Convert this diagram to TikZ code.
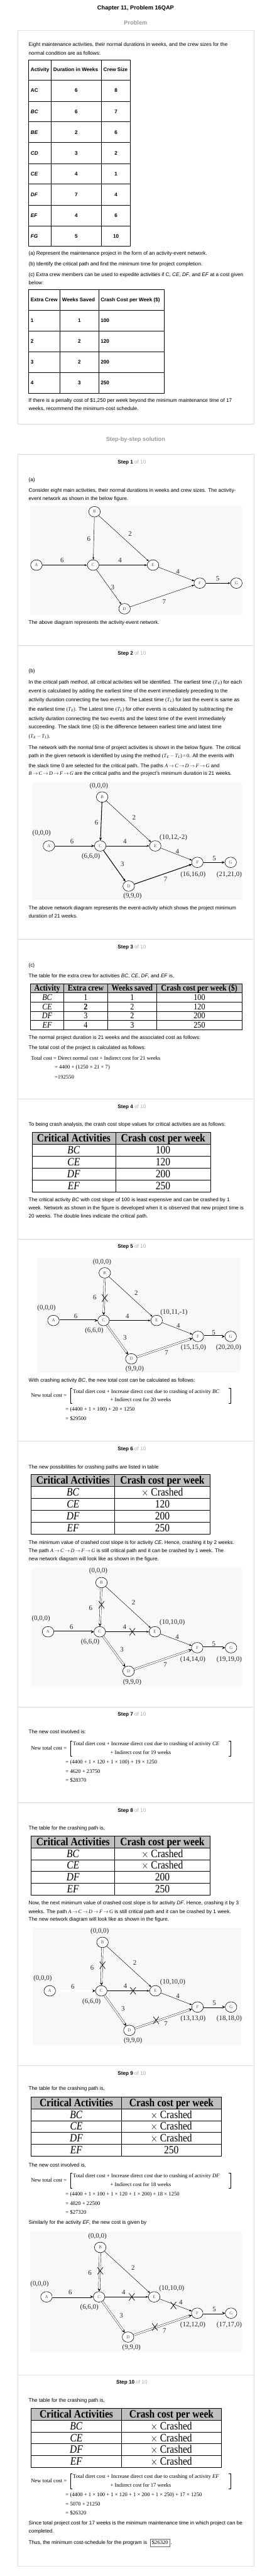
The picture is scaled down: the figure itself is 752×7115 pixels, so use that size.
\documentclass[tikz,border=0pt]{standalone}
\usepackage{fontspec}
\usepackage{graphicx}
\setmainfont{Liberation Sans}
\newfontfamily\rmf{Liberation Serif}
\usetikzlibrary{arrows.meta,shapes.geometric}
\definecolor{boxgray}{RGB}{221,221,221}
\definecolor{hdrgray}{RGB}{192,192,192}
\definecolor{figbg}{RGB}{248,248,248}
\definecolor{headgray}{RGB}{153,153,153}
\definecolor{stepgray}{RGB}{170,170,170}
\newcommand\bodyf{\fontsize{14.2}{17}\selectfont}
\newcommand\headf{\fontsize{16}{19}\selectfont\bfseries}
\newcommand\labf{\rmf\fontsize{19}{22}\selectfont}
\newcommand\evf{\rmf\fontsize{12}{14}\selectfont}
\newcommand\formf{\rmf\fontsize{15}{18}\selectfont}
\newcommand\tabbf{\rmf\fontsize{27}{30}\selectfont}
\newcommand\tabsf{\rmf\fontsize{21}{24}\selectfont}
\newcommand\st[1]{\scalebox{1}[1.15]{#1}}
\newcount\nc
\newcommand\T[3]{\global\advance\nc by 1\relax\node[txt] (t\the\nc) at ([yshift=-5pt]#1,#2) {#3};}
\newcommand\F[3]{\global\advance\nc by 1\relax\node[ftxt] (t\the\nc) at ([yshift=-5pt]#1,#2) {#3};}
\newcommand\Lab[3]{\global\advance\nc by 1\relax\node[lab] (t\the\nc) at (#1,#2) {#3};}
\newcommand\TB[3]{\global\advance\nc by 1\relax\node[tcell,font=\tabbf] (t\the\nc) at ([yshift=-10pt]#1,#2) {\st{#3}};}
\newcommand\TS[3]{\global\advance\nc by 1\relax\node[tcell,font=\tabsf] (t\the\nc) at ([yshift=-8pt]#1,#2) {\st{#3}};}
\newcommand\Step[3]{\node[anchor=base,inner sep=0pt,font=\bodyf] (#1) at ([yshift=-5pt]760,#2) {\textbf{Step #3} \textcolor{stepgray}{of 10}};}
\newcommand\Xm[2]{\draw[xm] (#1-16,#2-26) -- (#1+16,#2+26) (#1-16,#2+26) -- (#1+16,#2-26);}
\newcommand\pth{{\rmf\itshape A\,$\to$\,C\,$\to$\,D\,$\to$\,F\,$\to$\,G}}
\newcommand\pthB{{\rmf\itshape B\,$\to$\,C\,$\to$\,D\,$\to$\,F\,$\to$\,G}}
\newcommand\TE{{\rmf(\textit{T}\textsubscript{\textit{E}})}}
\newcommand\TL{{\rmf(\textit{T}\textsubscript{\textit{L}})}}
\newcommand\TETL{{\rmf(\textit{T}\textsubscript{\textit{E}}\,$-$\,\textit{T}\textsubscript{\textit{L}})}}
\newcommand\XC{$\times$ Crashed}
% critical-activity table frame: x0 xm x1 y0 y1 y2 y3 y4 y5
\newcommand\CT[9]{%
 \fill[hdrgray] (#1,#4) rectangle (#3,#5);
 \draw[ttab] (#1,#4) rectangle (#3,#9);
 \foreach \yy in {#5,#6,#7,#8} \draw[ttab] (#1,\yy) -- (#3,\yy);
 \draw[ttab] (#2,#4) -- (#2,#9);
 \TB{0.5*#1+0.5*#2}{0.5*#4+0.5*#5}{\textbf{Critical Activities}}
 \TB{0.5*#2+0.5*#3}{0.5*#4+0.5*#5}{\textbf{Crash cost per week}}
}
% new total cost block: ymid ytop ybot y1 y2 activity weeks
\newcommand\NTC[7]{%
 \F{178}{#1}{New total cost =}
 \draw[brk] (418,#2) -- (405,#2) -- (405,#3) -- (418,#3);
 \draw[brk] (1317,#2) -- (1330,#2) -- (1330,#3) -- (1317,#3);
 \F{420}{#4}{Total diret cost + Increase direct cost due to crashing of activity \textit{#6}}
 \global\advance\nc by 1\relax\node[ftxt,anchor=base] (t\the\nc) at ([yshift=-5pt]811,#5) {+ Indirect cost for #7 weeks};
}
\begin{document}
\begin{tikzpicture}[x=1pt,y=1pt,
 txt/.style={anchor=base west,inner sep=0pt,font=\bodyf},
 ftxt/.style={anchor=base west,inner sep=0pt,font=\formf},
 lab/.style={inner sep=0pt,font=\labf,text=black!85},
 ev/.style={draw,ellipse,minimum width=32pt,minimum height=29pt,inner sep=0pt,font=\evf,text=black!70,line width=1pt,fill=white},
 ed/.style={line width=0.8pt,-{Stealth[length=7pt,width=5pt]}},
 thk/.style={line width=1.8pt,-{Stealth[length=8pt,width=7pt]}},
 dbl/.style={line width=0.7pt,double=white,double distance=3.8pt,-{Stealth[length=8pt,width=8pt]}},
 xm/.style={line width=1.2pt},
 brk/.style={line width=0.6pt},
 stab/.style={line width=1.1pt},
 ttab/.style={line width=1pt},
 boxline/.style={draw=boxgray,line width=1pt},
 cr/.style={shift={(0pt,-#1pt)},x=0.4796pt,y=-0.3827pt},
 crz/.style={shift={(0pt,-#1pt)},x=0.4796pt,y=-0.3986pt},
 sth/.style={anchor=base west,inner sep=0pt,font=\bodyf\bfseries},
 stc/.style={anchor=base,inner sep=0pt,font=\bodyf\bfseries},
 tcell/.style={anchor=base,inner sep=0pt},
]
\path[use as bounding box] (0,0) rectangle (752,-7115);
\fill[white] (0,0) rectangle (752,-7115);
% boxes and separators
\draw[boxline] (48.4,-84.6) rectangle (702.6,-1170.9);
\draw[boxline] (48.4,-1254.2) rectangle (702.6,-7087.9);
\foreach \yy in {1782.6,2594.6,3034.6,3422.3,3980.5,4714.4,4978.3,5705.3,6559.4}
  \draw[boxline] (48.4,-\yy) -- (702.6,-\yy);

% ================= crop 1 =================
\begin{scope}[cr=0]
\node[anchor=base,inner sep=0pt,font=\headf] (title) at ([yshift=-5.5pt]782,55) {Chapter 11, Problem 16QAP};
\node[anchor=base,inner sep=0pt,font=\headf,text=headgray] (probhead) at ([yshift=-5.5pt]782,165) {Problem};
\T{165}{322}{Eight maintenance activities, their normal durations in weeks, and the crew sizes for the}
\T{165}{382}{normal condition are as follows:}
\draw[stab] (165,431) rectangle (752,1777.7);
\foreach \yy in {578,730,879,1028,1180,1329,1480,1628.7} \draw[stab] (165,\yy) -- (752,\yy);
\foreach \xx in {295,585} \draw[stab] (\xx,431) -- (\xx,1777.7);
\node[sth] (h1a) at ([yshift=-5pt]177,504) {Activity};
\node[sth] (h1b) at ([yshift=-5pt]307,504) {Duration in Weeks};
\node[sth] (h1c) at ([yshift=-5pt]596,504) {Crew Size};
\foreach \nm/\yy/\dd/\cc [count=\i] in {AC/654/6/8,\textit{BC}/805/6/7,\textit{BE}/955/2/6,\textit{CD}/1105/3/2,\textit{CE}/1255/4/1,\textit{DF}/1404/7/4,\textit{EF}/1555/4/6,\textit{FG}/1703.7/5/10}{
  \node[sth] (r1a\i) at ([yshift=-5pt]177,\yy) {\nm};
  \node[stc] (r1b\i) at ([yshift=-5pt]440,\yy) {\dd};
  \node[stc] (r1c\i) at ([yshift=-5pt]669,\yy) {\cc};
}
\end{scope}

% ================= crop 2 =================
\begin{scope}[cr=590]
\T{165}{288}{(a) Represent the maintenance project in the form of an activity-event network.}
\T{165}{363}{(b) Identify the critical path and find the minimum time for project completion.}
\T{165}{440}{(c) Extra crew members can be used to expedite activities if C, \textit{CE}, \textit{DF}, and \textit{EF} at a cost given}
\T{165}{498}{below:}
\draw[stab] (165,547) rectangle (946,1298);
\foreach \yy in {696,848,997,1148} \draw[stab] (165,\yy) -- (946,\yy);
\foreach \xx in {347,568} \draw[stab] (\xx,547) -- (\xx,1298);
\node[sth] (h2a) at ([yshift=-5pt]177,622) {Extra Crew};
\node[sth] (h2b) at ([yshift=-5pt]358,622) {Weeks Saved};
\node[sth] (h2c) at ([yshift=-5pt]580,622) {Crash Cost per Week (\$)};
\foreach \aa/\yy/\bb/\cc [count=\i] in {1/773/1/100,2/922/2/120,3/1071/2/200,4/1222/3/250}{
  \node[sth] (r2a\i) at ([yshift=-5pt]177,\yy) {\aa};
  \node[stc] (r2b\i) at ([yshift=-5pt]458,\yy) {\bb};
  \node[sth] (r2c\i) at ([yshift=-5pt]580,\yy) {\cc};
}
\T{165}{1346}{If there is a penalty cost of \$1,250 per week beyond the minimum maintenance time of 17}
\T{165}{1406}{weeks, recommend the minimum-cost schedule.}
\end{scope}

% ================= crop 3 =================
\begin{scope}[cr=1180]
\node[anchor=base,inner sep=0pt,font=\headf,text=headgray] (solhead) at ([yshift=-5.5pt]782,85) {Step-by-step solution};
\Step{s1}{251}{1}
\T{165}{380}{(a)}
\T{165}{455}{Consider eight main activities, their normal durations in weeks and crew sizes. The activity-}
\T{165}{515}{event network as shown in the below figure.}
\fill[figbg] (175,565) rectangle (1395,1355);
\node[ev] (a1) at (210,995) {A};
\node[ev] (b1) at (545,610) {B};
\node[ev] (c1) at (537,995) {C};
\node[ev] (e1) at (882,995) {E};
\node[ev] (f1) at (1152,1125) {F};
\node[ev] (g1) at (1363,1125) {G};
\node[ev] (d1) at (718,1310) {D};
\draw[ed] (a1) -- (c1);
\draw[ed] (b1) -- (c1);
\draw[ed] (b1) -- (e1);
\draw[ed] (c1) -- (e1);
\draw[ed] (c1) -- (d1);
\draw[ed] (e1) -- (f1);
\draw[ed] (d1) -- (f1);
\draw[ed] (f1) -- (g1);
\Lab{358}{962}{6}\Lab{512}{808}{6}\Lab{750}{770}{2}\Lab{692}{962}{4}
\Lab{1025}{1040}{4}\Lab{650}{1155}{3}\Lab{947}{1258}{7}\Lab{1255}{1093}{5}
\T{165}{1407}{The above diagram represents the activity-event network.}
\end{scope}

% ================= crop 4 =================
\begin{scope}[cr=1770]
\Step{s2}{87}{2}
\T{165}{218}{(b)}
\T{165}{296}{In the critical path method, all critical activities will be identified. The earliest time \TE{} for each}
\T{165}{362}{event is calculated by adding the earliest time of the event immediately preceding to the}
\T{165}{424}{activity duration connecting the two events. The Latest time \TL{} for last the event is same as}
\T{165}{494}{the earliest time \TE. The Latest time \TL{} for other events is calculated by subtracting the}
\T{165}{562}{activity duration connecting the two events and the latest time of the event immediately}
\T{165}{622}{succeeding. The slack time (\textit{S}) is the difference between earliest time and latest time}
\T{165}{688}{\TETL.}
\T{165}{768}{The network with the normal time of project activities is shown in the below figure. The critical}
\T{165}{830}{path in the given network is identified by using the method \TETL{}{\rmf\,=\,0}. All the events with}
\T{165}{900}{the slack time 0 are selected for the critical path. The paths \pth{} and}
\T{165}{958}{\pthB{} are the critical paths and the project's minimum duration is 21 weeks.}
\fill[figbg] (185,1020) rectangle (1395,1871.7);
\node[ev] (a2) at (282,1480) {A};
\node[ev] (b2) at (589,1127) {B};
\node[ev] (c2) at (578,1480) {C};
\node[ev] (e2) at (895,1480) {E};
\node[ev] (f2) at (1138,1598.7) {F};
\node[ev] (g2) at (1330,1598.7) {G};
\node[ev] (d2) at (742,1769.7) {D};
\draw[thk] (a2) -- (c2);
\draw[thk] (b2) -- (c2);
\draw[ed] (b2) -- (e2);
\draw[ed] (c2) -- (e2);
\draw[thk] (c2) -- (d2);
\draw[ed] (e2) -- (f2);
\draw[thk] (d2) -- (f2);
\draw[thk] (f2) -- (g2);
\Lab{570}{1047}{(0,0,0)}\Lab{240}{1388}{(0,0,0)}\Lab{1000}{1420}{(10,12,-2)}
\Lab{524}{1556.7}{(6,6,0)}\Lab{1113}{1686.7}{(16,16,0)}\Lab{1322}{1686.7}{(21,21,0)}\Lab{764}{1841.7}{(9,9,0)}
\Lab{415}{1447}{6}\Lab{556}{1310}{6}\Lab{773}{1275}{2}\Lab{720}{1447}{4}
\Lab{1023}{1520}{4}\Lab{706}{1611.7}{3}\Lab{955}{1721.7}{7}\Lab{1235}{1569.7}{5}
\end{scope}

% ================= crop 5 =================
\begin{scope}[cr=2360]
\T{165}{388}{The above network diagram represents the event-activity which shows the project minimum}
\T{165}{447}{duration of 21 weeks.}
\Step{s3}{669}{3}
\T{165}{800}{(c)}
\T{165}{876}{The table for the extra crew for activities \textit{BC}, \textit{CE}, \textit{DF}, and \textit{EF} is,}
\fill[hdrgray] (176,932) rectangle (1394,998);
\draw[ttab] (176,932) rectangle (1394,1263);
\foreach \yy in {998,1065,1131,1197} \draw[ttab] (176,\yy) -- (1394,\yy);
\foreach \xx in {368,620,904} \draw[ttab] (\xx,932) -- (\xx,1263);
\TS{272}{965}{\textbf{Activity}}\TS{494}{965}{\textbf{Extra crew}}\TS{762}{965}{\textbf{Weeks saved}}\TS{1149}{965}{\textbf{Crash cost per week (\$)}}
\TS{272}{1032}{\textit{BC}}\TS{494}{1032}{1}\TS{762}{1032}{1}\TS{1150}{1032}{100}
\TS{272}{1098}{\textit{CE}}\TS{494}{1098}{\textbf{2}}\TS{762}{1098}{2}\TS{1150}{1098}{120}
\TS{272}{1164}{\textit{DF}}\TS{494}{1164}{3}\TS{762}{1164}{2}\TS{1150}{1164}{200}
\TS{272}{1230}{\textit{EF}}\TS{494}{1230}{4}\TS{762}{1230}{3}\TS{1150}{1230}{250}
\T{165}{1320}{The normal project duration is 21 weeks and the associated cost as follows:}
\T{165}{1395}{The total cost of the project is calculated as follows:}
\F{178}{1472}{Total cost = Direct normal cost + Indirect cost for 21 weeks}
\F{315}{1535}{= 4400 + (1250 × 21 × 7)}
\end{scope}

% ================= crop 6 =================
\begin{scope}[cr=2950]
\F{315}{63}{=192550}
\Step{s4}{277}{4}
\T{165}{405}{To being crash analysis, the crash cost slope values for critical activities are as follows:}
\CT{185}{666}{1215}{464}{550}{636}{720}{806}{892}
\TB{425}{593}{\textit{BC}}\TB{940}{593}{100}
\TB{425}{678}{\textit{CE}}\TB{940}{678}{120}
\TB{425}{763}{\textit{DF}}\TB{940}{763}{200}
\TB{425}{849}{\textit{EF}}\TB{940}{849}{250}
\T{165}{948}{The critical activity \textit{BC} with cost slope of 100 is least expensive and can be crashed by 1}
\T{165}{1009}{week. Network as shown in the figure is developed when it is observed that new project time is}
\T{165}{1067}{20 weeks. The double lines indicate the critical path.}
\Step{s5}{1288}{5}
\fill[figbg] (215,1370) rectangle (1385,2201.7);
\node[ev] (a3) at (308,1821.7) {A};
\node[ev] (b3) at (604,1478) {B};
\node[ev] (c3) at (597,1821.7) {C};
\node[ev] (e3) at (903,1821.7) {E};
\node[ev] (f3) at (1141,1936.7) {F};
\node[ev] (g3) at (1330,1936.7) {G};
\node[ev] (d3) at (757,2098.7) {D};
\draw[dbl] (a3) -- (c3);
\draw[dbl] (b3) -- (c3);
\draw[ed] (b3) -- (e3);
\draw[ed] (c3) -- (e3);
\draw[dbl] (c3) -- (d3);
\draw[ed] (e3) -- (f3);
\draw[dbl] (d3) -- (f3);
\draw[dbl] (f3) -- (g3);
\Xm{604}{1659.7}
\Lab{588}{1402}{(0,0,0)}\Lab{268}{1731.7}{(0,0,0)}\Lab{1003}{1761.7}{(10,11,-1)}
\Lab{543}{1894.7}{(6,6,0)}\Lab{1115}{2018.7}{(15,15,0)}\Lab{1318}{2018.7}{(20,20,0)}\Lab{777}{2171.7}{(9,9,0)}
\Lab{546}{1656.7}{6}\Lab{785}{1621.7}{2}\Lab{437}{1789.7}{6}\Lab{735}{1789.7}{4}
\Lab{1028}{1859.7}{4}\Lab{720}{1946.7}{3}\Lab{960}{2053.7}{7}\Lab{1232}{1907.7}{5}
\end{scope}

% ================= crop 7 =================
\begin{scope}[cr=3540]
\T{165}{712}{With crashing activity \textit{BC}, the new total cost can be calculated as follows:}
\NTC{822}{770}{878}{792}{853}{BC}{20}
\F{378}{922}{= (4400 + 1 × 100) + 20 × 1250}
\F{378}{990}{= \$29500}
\Step{s6}{1208}{6}
\T{165}{1336}{The new possibilities for crashing paths are listed in table}
\CT{180}{662}{1210}{1390}{1477}{1563.7}{1647.7}{1733.7}{1819.7}
\TB{421}{1520.3}{\textit{BC}}\TB{936}{1520.3}{\XC}
\TB{421}{1605.7}{\textit{CE}}\TB{936}{1605.7}{120}
\TB{421}{1690.7}{\textit{DF}}\TB{936}{1690.7}{200}
\TB{421}{1776.7}{\textit{EF}}\TB{936}{1776.7}{250}
\end{scope}

% ================= crop 8 =================
\begin{scope}[cr=4130]
\T{165}{340}{The minimum value of crashed cost slope is for activity \textit{CE}. Hence, crashing it by 2 weeks.}
\T{165}{400}{The path \pth{} is still critical path and it can be crashed by 1 week. The}
\T{165}{457}{new network diagram will look like as shown in the figure.}
\fill[figbg] (180,525) rectangle (1395,1375);
\node[ev] (a4) at (277,985) {A};
\node[ev] (b4) at (585,630) {B};
\node[ev] (c4) at (575,985) {C};
\node[ev] (e4) at (893,985) {E};
\node[ev] (f4) at (1137,1100) {F};
\node[ev] (g4) at (1332,1100) {G};
\node[ev] (d4) at (741,1270) {D};
\draw[dbl] (a4) -- (c4);
\draw[dbl] (b4) -- (c4);
\draw[ed] (b4) -- (e4);
\draw[ed] (c4) -- (e4);
\draw[dbl] (c4) -- (d4);
\draw[ed] (e4) -- (f4);
\draw[dbl] (d4) -- (f4);
\draw[dbl] (f4) -- (g4);
\Xm{585}{790}\Xm{763}{985}
\Lab{567}{548}{(0,0,0)}\Lab{236}{890}{(0,0,0)}\Lab{993}{920}{(10,10,0)}
\Lab{520}{1060}{(6,6,0)}\Lab{1112}{1188}{(14,14,0)}\Lab{1322}{1188}{(19,19,0)}\Lab{762}{1347}{(9,9,0)}
\Lab{523}{812}{6}\Lab{770}{775}{2}\Lab{412}{952}{6}\Lab{718}{950}{4}
\Lab{1022}{1022}{4}\Lab{703}{1113}{3}\Lab{953}{1222}{7}\Lab{1233}{1073}{5}
\end{scope}

% ================= crop 9 =================
\begin{scope}[cr=4720]
\Step{s7}{40}{7}
\T{165}{167}{The new cost involved is:}
\NTC{282}{230}{340}{250}{313}{CE}{19}
\F{378}{383}{= (4400 + 1 × 120 + 1 × 100) + 19 × 1250}
\F{378}{450}{= 4620 + 23750}
\F{378}{513}{= \$28370}
\Step{s8}{732}{8}
\T{165}{860}{The table for the crashing path is,}
\CT{180}{662}{1210}{915}{1002}{1088}{1172}{1258}{1344}
\TB{421}{1045}{\textit{BC}}\TB{936}{1045}{\XC}
\TB{421}{1130}{\textit{CE}}\TB{936}{1130}{\XC}
\TB{421}{1215}{\textit{DF}}\TB{936}{1215}{200}
\TB{421}{1301}{\textit{EF}}\TB{936}{1301}{250}
\T{165}{1400}{Now, the next minimum value of crashed cost slope is for activity \textit{DF}. Hence, crashing it by 3}
\T{165}{1462}{weeks. The path \pth{} is still critical path and it can be crashed by 1 week.}
\T{165}{1518}{The new network diagram will look like as shown in the figure.}
\end{scope}

% ================= crop 10 =================
\begin{scope}[cr=5310]
\fill[figbg] (190,35) rectangle (1390,880);
\node[ev] (a5) at (287,493) {A};
\node[ev] (b5) at (591,143) {B};
\node[ev] (c5) at (584,493) {C};
\node[ev] (e5) at (896,493) {E};
\node[ev] (f5) at (1139,610) {F};
\node[ev] (g5) at (1332,610) {G};
\node[ev] (d5) at (746,778) {D};
\draw[dbl] (a5) -- (c5);
\draw[dbl] (b5) -- (c5);
\draw[ed] (b5) -- (e5);
\draw[ed] (c5) -- (e5);
\draw[dbl] (c5) -- (d5);
\draw[ed] (e5) -- (f5);
\draw[dbl] (d5) -- (f5);
\draw[dbl] (f5) -- (g5);
\Xm{591}{308}\Xm{767}{493}\Xm{900}{705}
\Lab{575}{65}{(0,0,0)}\Lab{246}{404}{(0,0,0)}\Lab{996}{432}{(10,10,0)}
\Lab{528}{570}{(6,6,0)}\Lab{1113}{695}{(13,13,0)}\Lab{1322}{695}{(18,18,0)}\Lab{767}{853}{(9,9,0)}
\Lab{531}{325}{6}\Lab{777}{290}{2}\Lab{420}{462}{6}\Lab{723}{460}{4}
\Lab{1025}{533}{4}\Lab{709}{623}{3}\Lab{957}{730}{7}\Lab{1235}{582}{5}
\Step{s9}{1087}{9}
\T{165}{1197}{The table for the crashing path is,}
\CT{180}{700}{1277}{1258}{1344}{1430}{1514}{1599.7}{1686.7}
\TB{440}{1387}{\textit{BC}}\TB{988}{1387}{\XC}
\TB{440}{1472}{\textit{CE}}\TB{988}{1472}{\XC}
\TB{440}{1557}{\textit{DF}}\TB{988}{1557}{\XC}
\TB{440}{1643}{\textit{EF}}\TB{988}{1643}{250}
\end{scope}

% ================= crop 11 =================
\begin{scope}[cr=5900]
\T{165}{207}{The new cost involved is,}
\NTC{318}{267}{375}{287}{350}{DF}{18}
\F{378}{418}{= (4400 + 1 × 100 + 1 × 120 + 1 × 200) + 18 × 1250}
\F{378}{486}{= 4820 + 22500}
\F{378}{549}{= \$27320}
\T{165}{622}{Similarly for the activity \textit{EF}, the new cost is given by}
\fill[figbg] (175,690) rectangle (1395,1552);
\node[ev] (a6) at (268,1160) {A};
\node[ev] (b6) at (578,803) {B};
\node[ev] (c6) at (571,1160) {C};
\node[ev] (e6) at (889,1160) {E};
\node[ev] (f6) at (1137,1278) {F};
\node[ev] (g6) at (1332,1278) {G};
\node[ev] (d6) at (738,1450) {D};
\draw[dbl] (a6) -- (c6);
\draw[dbl] (b6) -- (c6);
\draw[ed] (b6) -- (e6);
\draw[ed] (c6) -- (e6);
\draw[dbl] (c6) -- (d6);
\draw[ed] (e6) -- (f6);
\draw[dbl] (d6) -- (f6);
\draw[dbl] (f6) -- (g6);
\Xm{578}{972}\Xm{760}{1160}\Xm{1000}{1222}\Xm{893}{1377}
\Lab{562}{722}{(0,0,0)}\Lab{228}{1068}{(0,0,0)}\Lab{990}{1098}{(10,10,0)}
\Lab{515}{1237}{(6,6,0)}\Lab{1112}{1365}{(12,12,0)}\Lab{1322}{1365}{(17,17,0)}\Lab{758}{1525}{(9,9,0)}
\Lab{518}{988}{6}\Lab{767}{950}{2}\Lab{405}{1128}{6}\Lab{713}{1127}{4}
\Lab{1043}{1200}{4}\Lab{699}{1293}{3}\Lab{948}{1402}{7}\Lab{1235}{1250}{5}
\end{scope}

% ================= crop 12 =================
\begin{scope}[crz=6490]
\Step{s10}{226}{10}
\T{165}{352}{The table for the crashing path is,}
\CT{180}{700}{1277}{405}{488}{570}{651}{733}{816}
\TB{440}{529}{\textit{BC}}\TB{988}{529}{\XC}
\TB{440}{610.5}{\textit{CE}}\TB{988}{610.5}{\XC}
\TB{440}{692}{\textit{DF}}\TB{988}{692}{\XC}
\TB{440}{774.5}{\textit{EF}}\TB{988}{774.5}{\XC}
\NTC{908}{857}{962}{878}{938}{EF}{17}
\F{378}{1003}{= (4400 + 1 × 100 + 1 × 120 + 1 × 200 + 1 × 250) + 17 × 1250}
\F{378}{1068}{= 5070 + 21250}
\F{378}{1130}{= \$26320}
\T{165}{1200}{Since total project cost for 17 weeks is the minimum maintenance time in which project can be}
\T{165}{1255}{completed.}
\T{165}{1335}{Thus, the minimum cost-schedule for the program is}
\node[draw=black!60,line width=0.8pt,font=\formf,inner sep=1pt,minimum width=53.7pt,minimum height=20pt] (ans) at (923,1337) {\$26320};
\T{983}{1335}{.}
\end{scope}
\end{tikzpicture}
\end{document}
